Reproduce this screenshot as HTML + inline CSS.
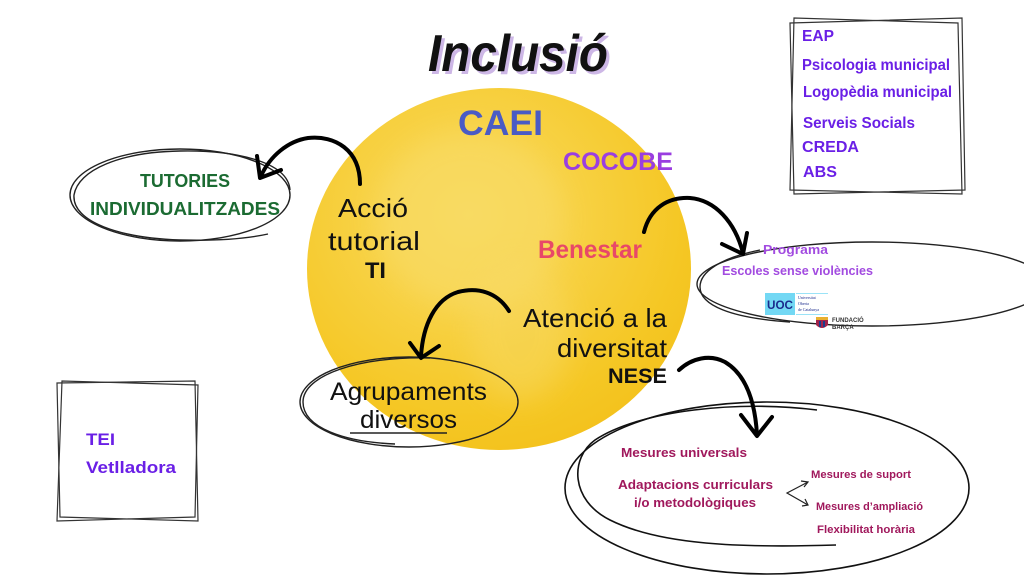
<!DOCTYPE html>
<html>
<head>
<meta charset="utf-8">
<style>
html,body{margin:0;padding:0;background:#fff;}
svg{display:block;}
.b{font-family:"Liberation Sans","DejaVu Sans",sans-serif;font-weight:bold;}
.h{font-family:"Liberation Sans","DejaVu Sans",sans-serif;font-weight:normal;}
</style>
</head>
<body>
<svg width="1024" height="576" viewBox="0 0 1024 576" xmlns="http://www.w3.org/2000/svg">
<defs>
  <radialGradient id="yg" cx="0.42" cy="0.35" r="0.7">
    <stop offset="0" stop-color="#F8D957"/>
    <stop offset="0.45" stop-color="#F7D040"/>
    <stop offset="0.8" stop-color="#F5C724"/>
    <stop offset="1" stop-color="#F3C11C"/>
  </radialGradient>
  <filter id="bl" x="-20%" y="-20%" width="140%" height="140%"><feGaussianBlur stdDeviation="14"/></filter>
</defs>

<!-- yellow watercolor blob -->
<ellipse cx="499" cy="269" rx="192" ry="181" fill="url(#yg)"/>
<ellipse cx="470" cy="220" rx="95" ry="90" fill="#F9DE72" opacity="0.45" filter="url(#bl)"/>
<ellipse cx="520" cy="330" rx="50" ry="70" fill="#F8DA66" opacity="0.45" filter="url(#bl)"/>

<!-- Title -->
<text x="431" y="74" class="b" font-size="52" font-style="italic" fill="#CDB7E6" textLength="180" lengthAdjust="spacingAndGlyphs">Inclusió</text>
<text x="428" y="71" class="b" font-size="52" font-style="italic" fill="#111" textLength="180" lengthAdjust="spacingAndGlyphs">Inclusió</text>

<!-- Circle labels -->
<text x="458" y="135" class="b" font-size="35" fill="#4A5BC4" textLength="85" lengthAdjust="spacingAndGlyphs">CAEI</text>
<text x="563" y="170" class="b" font-size="25" fill="#9A3EE0" textLength="110" lengthAdjust="spacingAndGlyphs">COCOBE</text>
<text x="538" y="258" class="b" font-size="25" fill="#E84868" textLength="104" lengthAdjust="spacingAndGlyphs">Benestar</text>

<text x="338" y="217" class="h" font-size="26" fill="#111" textLength="70" lengthAdjust="spacingAndGlyphs">Acció</text>
<text x="328" y="250" class="h" font-size="26" fill="#111" textLength="92" lengthAdjust="spacingAndGlyphs">tutorial</text>
<text x="365" y="278" class="b" font-size="22" fill="#111" textLength="21" lengthAdjust="spacingAndGlyphs">TI</text>

<text x="523" y="327" class="h" font-size="26" fill="#111" textLength="144" lengthAdjust="spacingAndGlyphs">Atenció a la</text>
<text x="557" y="357" class="h" font-size="26" fill="#111" textLength="110" lengthAdjust="spacingAndGlyphs">diversitat</text>
<text x="608" y="383" class="b" font-size="21" fill="#111" textLength="59" lengthAdjust="spacingAndGlyphs">NESE</text>

<!-- Tutories ellipse -->
<g fill="none" stroke="#222" stroke-width="1.4">
  <ellipse cx="180" cy="195" rx="110" ry="46"/>
  <path d="M290,190 C288,160 230,150 180,151 C120,152 78,170 74,195 C72,222 120,238 180,240 C220,241 250,238 268,234"/>
</g>
<text x="140" y="187" class="b" font-size="18" fill="#1B6B32" textLength="90" lengthAdjust="spacingAndGlyphs">TUTORIES</text>
<text x="90" y="215" class="b" font-size="18" fill="#1B6B32" textLength="190" lengthAdjust="spacingAndGlyphs">INDIVIDUALITZADES</text>

<!-- Agrupaments ellipse -->
<g fill="none" stroke="#222" stroke-width="1.4">
  <ellipse cx="409" cy="402" rx="109" ry="45"/>
  <path d="M430,358 C360,356 303,375 303,402 C303,428 345,442 395,444"/>
  <path d="M350,433 L447,433"/>
</g>
<text x="330" y="400" class="h" font-size="25" fill="#111" textLength="157" lengthAdjust="spacingAndGlyphs">Agrupaments</text>
<text x="360" y="428" class="h" font-size="25" fill="#111" textLength="97" lengthAdjust="spacingAndGlyphs">diversos</text>

<!-- Programa ellipse -->
<g fill="none" stroke="#222" stroke-width="1.4">
  <ellipse cx="872" cy="284" rx="175" ry="42"/>
  <path d="M760,250 C720,258 700,272 700,287 C700,305 730,318 790,322"/>
</g>
<text x="763" y="254" class="b" font-size="13" fill="#A24BE0" textLength="65" lengthAdjust="spacingAndGlyphs">Programa</text>
<text x="722" y="275" class="b" font-size="13" fill="#A24BE0" textLength="151" lengthAdjust="spacingAndGlyphs">Escoles sense violències</text>
<!-- UOC logo -->
<rect x="765" y="293" width="30" height="22" fill="#73D8F4"/>
<text x="767" y="309" class="b" font-size="12" fill="#1A2A8C" textLength="26" lengthAdjust="spacingAndGlyphs">UOC</text>
<line x1="796" y1="293.5" x2="828" y2="293.5" stroke="#9BE3F7" stroke-width="1"/>
<line x1="796" y1="314.5" x2="828" y2="314.5" stroke="#9BE3F7" stroke-width="1"/>
<text x="798" y="299" font-family="Liberation Serif,serif" font-size="4" fill="#1A2A8C">Universitat</text>
<text x="798" y="305" font-family="Liberation Serif,serif" font-size="4" fill="#1A2A8C">Oberta</text>
<text x="798" y="311" font-family="Liberation Serif,serif" font-size="4" fill="#1A2A8C">de Catalunya</text>
<!-- Barça -->
<path d="M816,317 L828,317 L828,325 Q822,331 816,325 Z" fill="#A2224A"/>
<rect x="816" y="317" width="12" height="3" fill="#E8B030"/>
<rect x="819" y="321" width="2" height="6" fill="#1C3C8C"/>
<rect x="823" y="321" width="2" height="6" fill="#1C3C8C"/>
<text x="832" y="322" class="b" font-size="6" fill="#333">FUNDACIÓ</text>
<text x="832" y="329" class="b" font-size="6" fill="#333">BARÇA</text>

<!-- Mesures ellipse -->
<g fill="none" stroke="#111" stroke-width="1.6">
  <ellipse cx="767" cy="488" rx="202" ry="86"/>
  <path d="M817,410 C740,400 640,410 595,440 C570,458 570,500 610,520 C660,545 740,548 836,545"/>
</g>
<text x="621" y="457" class="b" font-size="13" fill="#A0185C" textLength="126" lengthAdjust="spacingAndGlyphs">Mesures universals</text>
<text x="618" y="489" class="b" font-size="13" fill="#A0185C" textLength="155" lengthAdjust="spacingAndGlyphs">Adaptacions curriculars</text>
<text x="634" y="507" class="b" font-size="13" fill="#A0185C" textLength="122" lengthAdjust="spacingAndGlyphs">i/o metodològiques</text>
<g fill="none" stroke="#222" stroke-width="1.2">
  <path d="M808,482 L787,493 L808,505"/>
  <path d="M801,481 L808,482 L804,487"/>
  <path d="M802,506 L808,505 L805,499"/>
</g>
<text x="811" y="478" class="b" font-size="11" fill="#A0185C" textLength="100" lengthAdjust="spacingAndGlyphs">Mesures de suport</text>
<text x="816" y="510" class="b" font-size="11" fill="#A0185C" textLength="107" lengthAdjust="spacingAndGlyphs">Mesures d’ampliació</text>
<text x="817" y="533" class="b" font-size="11" fill="#A0185C" textLength="98" lengthAdjust="spacingAndGlyphs">Flexibilitat horària</text>

<!-- Right box -->
<g fill="none" stroke="#333" stroke-width="1.2">
  <path d="M790,23 L962,18 L965,190 L794,194 Z"/>
  <path d="M794,18 L958,23 L962,194 L790,190 Z"/>
</g>
<g class="b" fill="#6A1FE6">
  <text x="802" y="41" font-size="16" textLength="32" lengthAdjust="spacingAndGlyphs">EAP</text>
  <text x="802" y="70" font-size="16" textLength="148" lengthAdjust="spacingAndGlyphs">Psicologia municipal</text>
  <text x="803" y="97" font-size="16" textLength="149" lengthAdjust="spacingAndGlyphs">Logopèdia municipal</text>
  <text x="803" y="128" font-size="16" textLength="112" lengthAdjust="spacingAndGlyphs">Serveis Socials</text>
  <text x="802" y="152" font-size="16" textLength="57" lengthAdjust="spacingAndGlyphs">CREDA</text>
  <text x="803" y="177" font-size="16" textLength="34" lengthAdjust="spacingAndGlyphs">ABS</text>
</g>

<!-- TEI box -->
<g fill="none" stroke="#333" stroke-width="1.2">
  <path d="M57,383 L195,381 L198,521 L60,517 Z"/>
  <path d="M62,381 L198,385 L195,517 L57,521 Z"/>
</g>
<text x="86" y="445" class="b" font-size="17" fill="#6A1FE6" textLength="29" lengthAdjust="spacingAndGlyphs">TEI</text>
<text x="86" y="473" class="b" font-size="17" fill="#6A1FE6" textLength="90" lengthAdjust="spacingAndGlyphs">Vetlladora</text>

<!-- Arrows -->
<g fill="none" stroke="#000" stroke-width="4" stroke-linecap="round" stroke-linejoin="round">
  <!-- Acció -> Tutories -->
  <path d="M360,184 C360,150 335,135 308,138 C288,141 270,156 261,176"/>
  <path d="M257,156 L260,178 L281,170"/>
  <!-- Benestar -> Programa -->
  <path d="M644,232 C650,208 668,197 690,198 C715,200 735,222 743,253"/>
  <path d="M722,244 L743,254 L747,233"/>
  <!-- Atenció -> Agrupaments -->
  <path d="M509,311 C497,292 478,287 458,292 C435,299 423,325 421,356"/>
  <path d="M410,343 L421,358 L439,346"/>
  <!-- NESE -> Mesures -->
  <path d="M679,370 C692,358 710,354 725,362 C745,374 755,400 757,435"/>
  <path d="M741,415 L757,436 L772,417"/>
</g>
</svg>
</body>
</html>
